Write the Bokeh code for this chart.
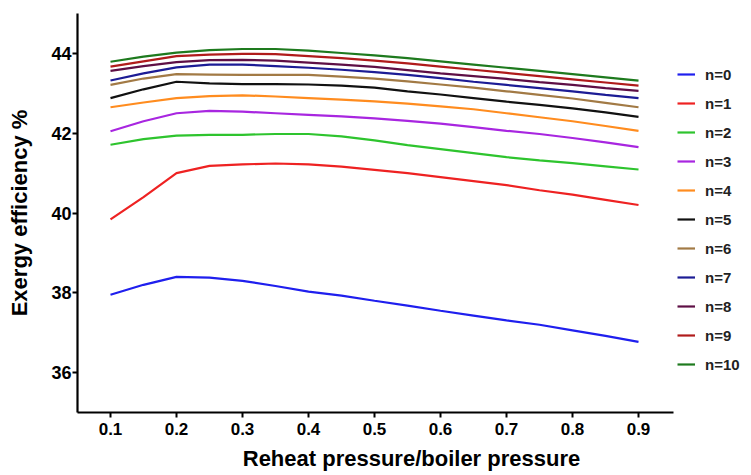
from bokeh.plotting import figure
from bokeh.models import Range1d, Legend, LegendItem, FixedTicker
from bokeh.embed import file_html
from bokeh.resources import INLINE

x_ratio = [0.10, 0.15, 0.20, 0.25, 0.30, 0.35, 0.40, 0.45, 0.50,
           0.55, 0.60, 0.65, 0.70, 0.75, 0.80, 0.85, 0.90]

eff_n0 = [37.95, 38.20, 38.40, 38.38, 38.30, 38.17, 38.03, 37.93, 37.80,
          37.68, 37.55, 37.43, 37.31, 37.20, 37.06, 36.92, 36.77]
eff_n1 = [39.84, 40.40, 41.00, 41.18, 41.22, 41.24, 41.22, 41.16, 41.08,
          41.00, 40.90, 40.80, 40.70, 40.57, 40.46, 40.33, 40.20]
eff_n2 = [41.71, 41.85, 41.94, 41.96, 41.96, 41.98, 41.98, 41.92, 41.82,
          41.70, 41.60, 41.50, 41.40, 41.32, 41.25, 41.17, 41.09]
eff_n3 = [42.05, 42.30, 42.50, 42.56, 42.54, 42.50, 42.46, 42.42, 42.37,
          42.31, 42.24, 42.15, 42.06, 41.98, 41.88, 41.77, 41.65]
eff_n4 = [42.65, 42.77, 42.88, 42.93, 42.95, 42.92, 42.88, 42.84, 42.80,
          42.74, 42.67, 42.60, 42.50, 42.40, 42.30, 42.18, 42.06]
eff_n5 = [42.88, 43.10, 43.29, 43.25, 43.23, 43.23, 43.22, 43.19, 43.14,
          43.05, 42.97, 42.88, 42.79, 42.71, 42.62, 42.52, 42.41]
eff_n6 = [43.21, 43.37, 43.48, 43.47, 43.46, 43.46, 43.46, 43.42, 43.37,
          43.30, 43.22, 43.14, 43.05, 42.96, 42.87, 42.76, 42.65]
eff_n7 = [43.32, 43.50, 43.65, 43.72, 43.72, 43.68, 43.64, 43.59, 43.53,
          43.46, 43.38, 43.29, 43.21, 43.13, 43.05, 42.96, 42.88]
eff_n8 = [43.56, 43.68, 43.78, 43.83, 43.84, 43.82, 43.77, 43.72, 43.66,
          43.58, 43.50, 43.43, 43.36, 43.28, 43.21, 43.13, 43.06]
eff_n9 = [43.67, 43.80, 43.93, 43.97, 43.99, 43.98, 43.93, 43.88, 43.82,
          43.75, 43.67, 43.59, 43.51, 43.43, 43.35, 43.27, 43.19]
eff_n10 = [43.79, 43.92, 44.02, 44.08, 44.11, 44.11, 44.07, 44.01, 43.95,
           43.88, 43.80, 43.72, 43.64, 43.56, 43.48, 43.40, 43.32]

series_labels = ["n=0", "n=1", "n=2", "n=3", "n=4", "n=5",
                 "n=6", "n=7", "n=8", "n=9", "n=10"]
series_values = [eff_n0, eff_n1, eff_n2, eff_n3, eff_n4, eff_n5,
                 eff_n6, eff_n7, eff_n8, eff_n9, eff_n10]
series_colors = ["#1f1fee", "#ee2222", "#2ec42e", "#a826e0", "#ff8c1f",
                 "#111111", "#a27a45", "#1c1c95", "#5e0f45", "#b01b1b",
                 "#1e7a1e"]

x_ticks = [0.1, 0.2, 0.3, 0.4, 0.5, 0.6, 0.7, 0.8, 0.9]
y_ticks = [36, 38, 40, 42, 44]

FONT = "Liberation Sans"

# frame spans to near the right edge so the legend sits inside it;
# the x axis line itself is limited with bounds
p = figure(width=751, height=475, output_backend="svg", toolbar_location=None,
           x_range=Range1d(0.05, 1.0621), y_range=Range1d(35, 45),
           min_border_left=77, min_border_right=6, min_border_top=13,
           min_border_bottom=63)
p.outline_line_color = None
p.xgrid.visible = False
p.ygrid.visible = False
p.background_fill_color = "white"
p.border_fill_color = "white"

items = []
for lab, vals, col in zip(series_labels, series_values, series_colors):
    r = p.line(x_ratio, vals, line_color=col, line_width=2.2)
    items.append(LegendItem(label=lab, renderers=[r]))

for ax in (p.xaxis[0], p.yaxis[0]):
    ax.axis_line_width = 2.2
    ax.axis_line_color = "black"
    ax.major_tick_line_width = 2
    ax.major_tick_line_color = "black"
    ax.major_tick_out = 5
    ax.major_tick_in = 0
    ax.minor_tick_line_color = None
    ax.major_label_text_font = FONT
    ax.major_label_text_font_style = "bold"
    ax.major_label_text_color = "black"
    ax.axis_label_text_font = FONT
    ax.axis_label_text_font_style = "bold"
    ax.axis_label_text_color = "black"
    ax.axis_label_text_font_size = "22px"

p.xaxis.bounds = (0.05, 0.953)
p.xaxis.ticker = FixedTicker(ticks=x_ticks)
p.yaxis.ticker = FixedTicker(ticks=y_ticks)
p.xaxis.major_label_text_font_size = "17px"
p.yaxis.major_label_text_font_size = "18px"
p.xaxis.major_label_standoff = 5
p.yaxis.major_label_standoff = 1
p.xaxis.axis_label = "Reheat pressure/boiler pressure"
p.yaxis.axis_label = "Exergy efficiency %"
p.xaxis.axis_label_standoff = 8
p.yaxis.axis_label_standoff = 16

legend = Legend(items=items, location=(600, 38))
legend.border_line_color = None
legend.background_fill_alpha = 0
legend.padding = 0
legend.margin = 0
legend.spacing = 9
legend.glyph_width = 18
legend.glyph_height = 20
legend.label_height = 20
legend.label_standoff = 10
legend.label_text_font = FONT
legend.label_text_font_style = "bold"
legend.label_text_font_size = "15px"
legend.label_text_color = "#222222"
p.add_layout(legend)

open("out.html", "w").write(file_html(p, INLINE))
